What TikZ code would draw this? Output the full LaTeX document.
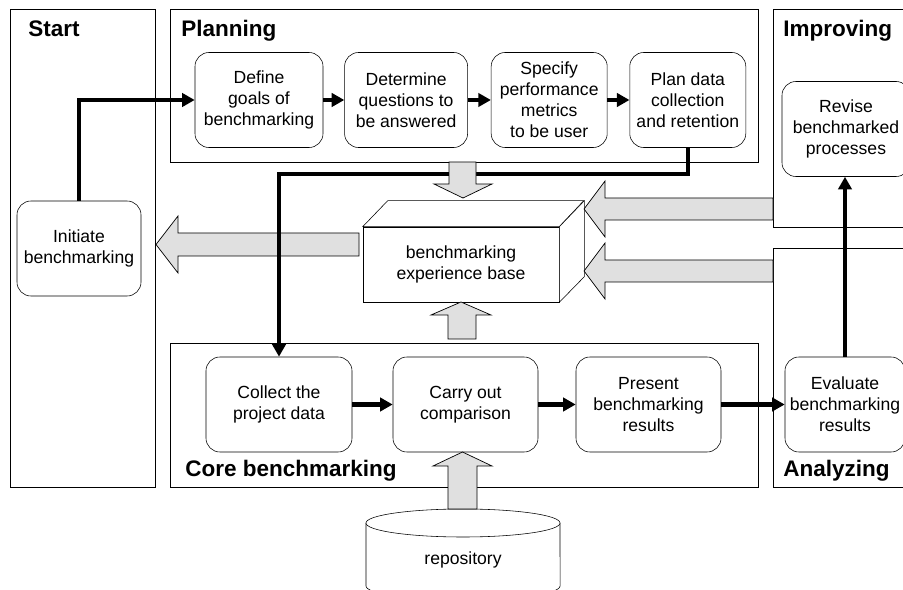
\documentclass[tikz,border=0pt]{standalone}
\usepackage{fontspec}
\setmainfont{Liberation Sans}
\usetikzlibrary{positioning,arrows.meta}

\tikzset{
	stepbox/.style={draw, rounded corners=0.35cm, fill=white, align=center, inner sep=2pt,
		minimum height=2.375cm, font=\fontsize{12.5}{15}\selectfont},
	panel/.style={draw, line width=0.6pt},
	paneltitle/.style={anchor=base west, inner sep=0pt, font=\fontsize{16}{19}\selectfont\bfseries},
	flow/.style={line width=3pt, -{Triangle[length=9pt,width=9.5pt]}},
	fat/.style={draw, fill=black!12, line width=0.5pt},
}

\begin{document}
\begin{tikzpicture}[x=0.025cm, y=-0.025cm]
	\clip (0,0) rectangle (903,590);
	
	\draw[panel] (10,9.5) rectangle (155,487);
	\draw[panel] (170,9.5) rectangle (758,162);
	\draw[panel] (773,9.5) rectangle (910,227);
	\draw[panel] (773,248) rectangle (910,487);
	\draw[panel] (170,343) rectangle (758,487);
	
	\node[paneltitle] (tstart) at (28,36.5) {Start};
	\node[paneltitle] (tplanning) at (181,36.5) {Planning};
	\node[paneltitle] (timproving) at (783,36.5) {Improving};
	\node[paneltitle] (tcore) at (185,477) {Core benchmarking};
	\node[paneltitle] (tanalyzing) at (783,477) {Analyzing};
	
	\node[stepbox, minimum width=3.2cm] (define) at (259,100) {Define\\goals of\\benchmarking};
	\node[stepbox, minimum width=3.075cm, right=0.525cm of define] (determine) {Determine\\questions to\\be answered};
	\node[stepbox, minimum width=2.9cm, right=0.575cm of determine] (specify) {Specify\\performance\\metrics\\to be user};
	\node[stepbox, minimum width=2.9cm, right=0.55cm of specify] (plan) {Plan data\\collection\\and retention};
	\node[stepbox, minimum width=3.2cm] (revise) at (846,129) {Revise\\benchmarked\\processes};
	\node[stepbox, minimum width=3.1cm] (initiate) at (79,248.5) {Initiate\\benchmarking};
	\node[stepbox, minimum width=3.65cm] (collect) at (279,404.5) {Collect the\\project data};
	\node[stepbox, minimum width=3.625cm] (carry) at (465.5,404.5) {Carry out\\comparison};
	\node[stepbox, minimum width=3.625cm] (present) at (648.5,404.5) {Present\\benchmarking\\results};
	\node[stepbox, minimum width=3cm] (evaluate) at (845,404.5) {Evaluate\\benchmarking\\results};
	
	% experience base as a box
	\node[draw, fill=white, minimum width=4.9cm, minimum height=1.875cm, align=center,
		font=\fontsize{12.5}{15}\selectfont] (base) at (461,264.5) {benchmarking\\experience base};
	\draw[fill=white] (base.north west) -- ++(25,-26) -- ++(196,0) -- (base.north east) -- cycle;
	\draw[fill=white] (base.north east) -- ++(25,-26) -- ++(0,76) -- (base.south east) -- cycle;
	
	% repository
	\draw[fill=white] (366,523) -- (366,586) arc[start angle=180, end angle=360, x radius=2.425cm, y radius=0.35cm] -- (560,523);
	\draw[fill=white] (463,523) ellipse [x radius=2.425cm, y radius=0.35cm];
	\node[font=\fontsize{12.5}{15}\selectfont] (repo) at (463,560) {repository};
	
	\draw[fat] (359,233) -- (178,233) -- (178,216) -- (156,244.5) -- (178,273) -- (178,256) -- (359,256) -- cycle;
	
	\draw[flow] (initiate.north) |- (define.west);
	\draw[flow] (define) -- (determine);
	\draw[flow] (determine) -- (specify);
	\draw[flow] (specify) -- (plan);
	\draw[flow] (plan.south) -- ++(0,26) -| (collect.north);
	\draw[flow] (collect) -- (carry);
	\draw[flow] (carry) -- (present);
	\draw[flow] (present) -- (evaluate);
	\draw[flow] (evaluate.north) -- (evaluate.north |- revise.south);
	
	\draw[fat] (449,162) -- (449,184) -- (434,184) -- (463,198) -- (492,184) -- (476,184) -- (476,162) -- cycle;
	\draw[fat] (773,198) -- (605,198) -- (605,181) -- (584,209) -- (605,237) -- (605,220) -- (773,220) -- cycle;
	\draw[fat] (773,260) -- (605,260) -- (605,243) -- (584,271) -- (605,299) -- (605,282) -- (773,282) -- cycle;
	\draw[fat] (448,339) -- (448,315) -- (431,315) -- (461,302) -- (491,315) -- (476,315) -- (476,339) -- cycle;
	\draw[fat] (448,509) -- (448,466) -- (433,466) -- (462.5,452) -- (492,466) -- (477,466) -- (477,509) -- cycle;
\end{tikzpicture}
\end{document}
